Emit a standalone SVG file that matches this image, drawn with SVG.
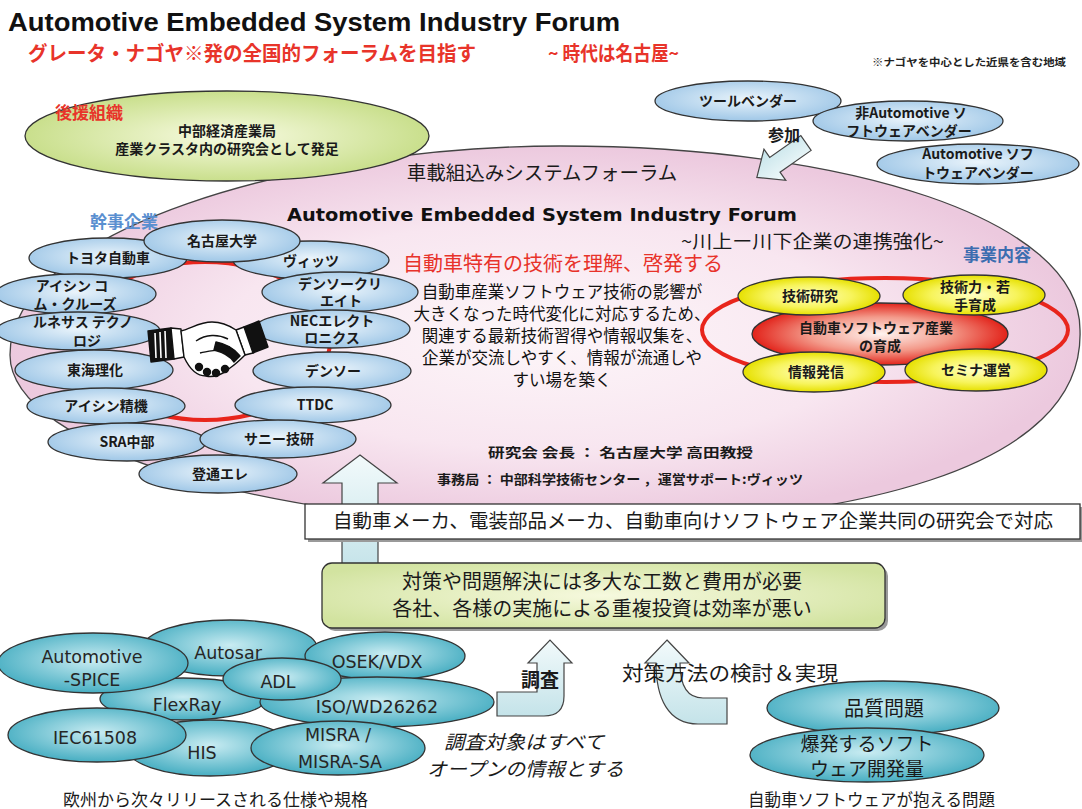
<svg xmlns="http://www.w3.org/2000/svg" width="1082" height="809" viewBox="0 0 1082 809">
<defs>
  <radialGradient id="gPink" cx="50%" cy="50%" r="50%">
    <stop offset="0" stop-color="#fdf6f9"/>
    <stop offset="0.6" stop-color="#f8e6f0"/>
    <stop offset="1" stop-color="#ecc9de"/>
  </radialGradient>
  <radialGradient id="gLime" cx="50%" cy="50%" r="50%">
    <stop offset="0" stop-color="#f8fbe2"/>
    <stop offset="1" stop-color="#c9df8c"/>
  </radialGradient>
  <radialGradient id="gBlue" cx="50%" cy="45%" r="55%">
    <stop offset="0" stop-color="#eaf4fb"/>
    <stop offset="1" stop-color="#9fc7e7"/>
  </radialGradient>
  <radialGradient id="gYellow" cx="50%" cy="50%" r="50%">
    <stop offset="0" stop-color="#ffffc4"/>
    <stop offset="0.6" stop-color="#f7f45c"/>
    <stop offset="1" stop-color="#e6e000"/>
  </radialGradient>
  <radialGradient id="gRed" cx="50%" cy="50%" r="50%">
    <stop offset="0" stop-color="#fff4f0"/>
    <stop offset="0.55" stop-color="#f39a8a"/>
    <stop offset="1" stop-color="#e2231a"/>
  </radialGradient>
  <radialGradient id="gTeal" cx="50%" cy="45%" r="55%">
    <stop offset="0" stop-color="#c9ecf2"/>
    <stop offset="1" stop-color="#47aec2"/>
  </radialGradient>
  <radialGradient id="gBox" cx="50%" cy="50%" r="60%">
    <stop offset="0" stop-color="#f6f9de"/>
    <stop offset="1" stop-color="#d2e3a0"/>
  </radialGradient>
  <linearGradient id="gArrow" x1="0" y1="0" x2="0" y2="1">
    <stop offset="0" stop-color="#f2fafb"/>
    <stop offset="1" stop-color="#c4e3e9"/>
  </linearGradient>
  <style>
    .jp{font-family:"Noto Sans CJK JP","Noto Sans CJK SC",sans-serif}
    .b{font-weight:700}
    .c{text-anchor:middle}
    .edge{stroke:#333;stroke-width:1.3}
    .bn{fill:url(#gBlue);stroke:#333;stroke-width:1.3}
    .yn{fill:url(#gYellow);stroke:#333;stroke-width:1.3}
    .tn{fill:url(#gTeal);stroke:#333;stroke-width:1.3}
    .ring{fill:none;stroke:#e8251c;stroke-width:4}
    .bt{font-family:"Noto Sans CJK JP","Noto Sans CJK SC",sans-serif;font-size:14px;font-weight:700;fill:#1a1a1a;text-anchor:middle}
    .yt{font-family:"Noto Sans CJK JP","Noto Sans CJK SC",sans-serif;font-size:14px;font-weight:700;fill:#1a1a1a;text-anchor:middle}
    .tt{font-family:"DejaVu Sans","Liberation Sans",sans-serif;font-size:17.5px;fill:#262626;text-anchor:middle}
    .arrow{fill:url(#gArrow);stroke:#444;stroke-width:1.2}
  </style>
</defs>

<rect width="1082" height="809" fill="#ffffff"/>

<!-- heading -->
<g id="heading">
  <text x="8" y="31" font-family="Liberation Sans, Arial, sans-serif" font-size="26" font-weight="700" fill="#111" textLength="612" lengthAdjust="spacingAndGlyphs">Automotive Embedded System Industry Forum</text>
  <text class="jp b" x="28" y="61" font-size="20" fill="#e8342a" textLength="448" lengthAdjust="spacingAndGlyphs">グレータ・ナゴヤ※発の全国的フォーラムを目指す</text>
  <text class="jp b" x="548" y="61" font-size="20" fill="#e8342a" textLength="131" lengthAdjust="spacingAndGlyphs">~ 時代は名古屋~</text>
  <text class="jp b" x="872" y="66" font-size="10.5" fill="#222" textLength="194" lengthAdjust="spacingAndGlyphs">※ナゴヤを中心とした近県を含む地域</text>
</g>

<!-- forum (large pink region) -->
<g id="forum">
  <path d="M560,146 C850,146 1080,220 1080,330 C1085,470 850,525 560,525 C280,525 10,450 10,355 C10,230 300,146 560,146 Z" fill="url(#gPink)" stroke="#444" stroke-width="1.3"/>
  <text class="jp c" x="542" y="180" font-size="19.5" fill="#1a1a1a">車載組込みシステムフォーラム</text>
  <text class="c" x="542" y="221" font-family="DejaVu Sans, Verdana, sans-serif" font-size="18" font-weight="700" fill="#111" textLength="510" lengthAdjust="spacingAndGlyphs">Automotive Embedded System Industry  Forum</text>
  <text class="jp" x="681" y="248" font-size="18" fill="#1a1a1a" textLength="263" lengthAdjust="spacingAndGlyphs">~川上ー川下企業の連携強化~</text>
  <text class="jp b" x="963" y="261" font-size="17" fill="#3c6db0">事業内容</text>
  <text class="jp b" x="90" y="228" font-size="17" fill="#5a8fd0">幹事企業</text>
  <text class="jp c" x="563" y="271" font-size="20" fill="#e8322a">自動車特有の技術を理解、啓発する</text>
  <g class="jp c" font-size="16.5" fill="#111">
    <text x="562" y="298">自動車産業ソフトウェア技術の影響が</text>
    <text x="562" y="320">大きくなった時代変化に対応するため、</text>
    <text x="562" y="342">関連する最新技術習得や情報収集を、</text>
    <text x="562" y="364">企業が交流しやすく、情報が流通しや</text>
    <text x="562" y="386">すい場を築く</text>
  </g>
  <text class="jp b" x="488" y="457" font-size="13" fill="#1a1a1a" textLength="265" lengthAdjust="spacingAndGlyphs">研究会 会長 ： 名古屋大学  高田教授</text>
  <text class="jp b" x="437" y="484" font-size="13" fill="#1a1a1a" textLength="366" lengthAdjust="spacingAndGlyphs">事務局 ： 中部科学技術センター ，運営サポート:ヴィッツ</text>
</g>

<!-- supporting organisation -->
<g id="support">
  <ellipse cx="227" cy="136" rx="202" ry="45" fill="url(#gLime)" class="edge"/>
  <text class="jp b" x="55" y="119" font-size="17" fill="#e8342a">後援組織</text>
  <text class="jp b c" x="227" y="136" font-size="14" fill="#1a1a1a">中部経済産業局</text>
  <text class="jp b c" x="227" y="154" font-size="14" fill="#1a1a1a">産業クラスタ内の研究会として発足</text>
</g>

<!-- participating vendors -->
<g id="vendor-tool">
  <ellipse cx="748" cy="101" rx="93" ry="20" class="bn"/>
  <text class="bt" x="748" y="106">ツールベンダー</text>
</g>
<g id="vendor-nonauto">
  <ellipse cx="908" cy="121" rx="95" ry="20" class="bn"/>
  <text class="bt" x="911" y="118">非Automotive ソ</text>
  <text class="bt" x="909" y="136">フトウェアベンダー</text>
</g>
<g id="vendor-auto">
  <ellipse cx="978" cy="164" rx="101" ry="20" class="bn"/>
  <text class="bt" x="978" y="159">Automotive ソフ</text>
  <text class="bt" x="978" y="178">トウェアベンダー</text>
</g>

<!-- member companies -->
<g id="member-ring"><ellipse cx="205" cy="341" rx="125" ry="79" class="ring"/></g>
<g id="n-toyota"><ellipse cx="108" cy="258" rx="79" ry="20" class="bn"/><text class="bt" x="108" y="263">トヨタ自動車</text></g>
<g id="n-vitz"><ellipse cx="311" cy="260" rx="78" ry="19" class="bn"/><text class="bt" x="311" y="266">ヴィッツ</text></g>
<g id="n-nagoya-univ"><ellipse cx="222" cy="241" rx="78" ry="21" class="bn"/><text class="bt" x="222" y="246">名古屋大学</text></g>
<g id="n-aisin-comcruise"><ellipse cx="76" cy="294" rx="80" ry="20" class="bn"/><text class="bt" x="72" y="291">アイシン コ</text><text class="bt" x="75" y="309">ム・クルーズ</text></g>
<g id="n-denso-create"><ellipse cx="340" cy="292" rx="78" ry="20" class="bn"/><text class="bt" x="340" y="289">デンソークリ</text><text class="bt" x="341" y="306">エイト</text></g>
<g id="n-renesas"><ellipse cx="78" cy="331" rx="82" ry="19" class="bn"/><text class="bt" x="83" y="327">ルネサス テクノ</text><text class="bt" x="87" y="346">ロジ</text></g>
<g id="n-nec"><ellipse cx="332" cy="329" rx="78" ry="19" class="bn"/><text class="bt" x="332" y="326">NECエレクト</text><text class="bt" x="332" y="343">ロニクス</text></g>
<g id="n-tokai-rika"><ellipse cx="94" cy="370" rx="79" ry="20" class="bn"/><text class="bt" x="95" y="375">東海理化</text></g>
<g id="n-denso"><ellipse cx="332" cy="371" rx="79" ry="19" class="bn"/><text class="bt" x="333" y="376">デンソー</text></g>
<g id="n-aisin-seiki"><ellipse cx="106" cy="406" rx="79" ry="18" class="bn"/><text class="bt" x="106" y="411">アイシン精機</text></g>
<g id="n-ttdc"><ellipse cx="313" cy="405" rx="78" ry="18" class="bn"/><text class="bt" x="315" y="410">TTDC</text></g>
<g id="n-sra"><ellipse cx="127" cy="442" rx="79" ry="19" class="bn"/><text class="bt" x="127" y="447">SRA中部</text></g>
<g id="n-sunny"><ellipse cx="278" cy="439" rx="78" ry="19" class="bn"/><text class="bt" x="279" y="444">サニー技研</text></g>
<g id="n-tsuden"><ellipse cx="218" cy="474" rx="79" ry="19" class="bn"/><text class="bt" x="220" y="479">登通エレ</text></g>

<!-- handshake emblem -->
<g id="handshake" stroke="#111" stroke-width="1.4" stroke-linejoin="round">
  <polygon points="148,331 171,328 174,359 151,362" fill="#111"/>
  <path d="M155,333 L156,358 M160,332 L161,358 M165,331 L166,358" stroke="#fff" stroke-width="1.6"/>
  <polygon points="171,328 181,329 184,357 174,359" fill="#fff"/>
  <polygon points="244,327 259,321 268,347 253,353" fill="#111"/>
  <polygon points="236,330 244,327 253,353 245,355" fill="#fff"/>
  <path d="M181,331 C192,328 200,322 212,322 C222,322 230,326 236,330 L245,355 C240,360 236,364 230,368 C224,374 214,378 206,376 C198,376 190,370 184,357 Z" fill="#fff"/>
  <path d="M214,350 C222,352 230,356 234,362 L240,356 C234,348 226,344 216,342 Z" fill="#111"/>
  <path d="M196,341 C206,334 218,334 228,339" fill="none"/>
  <path d="M200,353 C210,350 220,351 230,347" fill="none"/>
  <circle cx="199" cy="367" r="3.5" fill="#111"/>
  <circle cx="207" cy="372" r="3.5" fill="#111"/>
  <circle cx="216" cy="373" r="3.5" fill="#111"/>
  <circle cx="225" cy="369" r="3.5" fill="#111"/>
</g>

<!-- activities -->
<g id="activity-ring"><ellipse cx="885" cy="330" rx="183" ry="52" class="ring"/></g>
<g id="a-core">
  <ellipse cx="880" cy="334" rx="128" ry="31" fill="url(#gRed)" class="edge"/>
  <text class="yt" x="876" y="333" font-size="13">自動車ソフトウェア産業</text>
  <text class="yt" x="880" y="351" font-size="13">の育成</text>
</g>
<g id="a-research"><ellipse cx="809" cy="296" rx="71" ry="19" class="yn"/><text class="yt" x="810" y="301">技術研究</text></g>
<g id="a-training"><ellipse cx="974" cy="295" rx="71" ry="20" class="yn"/><text class="yt" x="975" y="292">技術力・若</text><text class="yt" x="975" y="310">手育成</text></g>
<g id="a-info"><ellipse cx="814" cy="372" rx="71" ry="20" class="yn"/><text class="yt" x="816" y="377">情報発信</text></g>
<g id="a-seminar"><ellipse cx="976" cy="370" rx="71" ry="21" class="yn"/><text class="yt" x="976" y="375">セミナ運営</text></g>

<!-- connectors -->
<g id="connectors">
  <path class="arrow" transform="translate(806,143) rotate(145)" d="M0,-9 L38,-9 L38,-19 L60,0 L38,19 L38,9 L0,9 Z"/>
  <path class="arrow" d="M360,455 L397,483 L378,483 L378,570 L342,570 L342,483 L323,483 Z"/>
  <path class="arrow" d="M497,692 L537,692 L537,663 L528,663 L550,640 L572,663 L564,663 L564,696 Q564,716 544,716 L497,716 Z"/>
  <path class="arrow" d="M667,640 L689,663 L680,663 C680,686 687,698 703,698 L727,698 L727,724 L698,724 C668,724 656,698 656,663 L645,663 Z"/>
</g>
<g id="connector-labels">
  <text class="jp b" x="768" y="141" font-size="16" fill="#1a1a1a">参加</text>
  <text class="jp b" x="521" y="687" font-size="19" fill="#1a1a1a">調査</text>
  <text class="jp" x="622" y="681" font-size="20" fill="#1a1a1a" textLength="216" lengthAdjust="spacingAndGlyphs">対策方法の検討＆実現</text>
</g>

<!-- joint study group -->
<g id="joint-study">
  <rect x="308" y="507" width="775" height="35" fill="#9a9a9a"/>
  <rect x="305" y="504" width="775" height="35" fill="#fff" stroke="#333" stroke-width="1.3"/>
  <text class="jp" x="333" y="528" font-size="19.5" fill="#1a1a1a" textLength="720" lengthAdjust="spacingAndGlyphs">自動車メーカ、電装部品メーカ、自動車向けソフトウェア企業共同の研究会で対応</text>
</g>

<!-- cost issue -->
<g id="cost-issue">
  <rect x="325" y="566" width="563" height="65" rx="10" fill="#9a9a9a"/>
  <rect x="322" y="563" width="563" height="65" rx="10" fill="url(#gBox)" stroke="#333" stroke-width="1.3"/>
  <text class="jp c" x="602" y="589" font-size="20" fill="#1a1a1a">対策や問題解決には多大な工数と費用が必要</text>
  <text class="jp c" x="602" y="616" font-size="20" fill="#1a1a1a">各社、各様の実施による重複投資は効率が悪い</text>
</g>

<!-- European specifications and standards -->
<g id="s-autosar"><ellipse cx="230" cy="648" rx="87" ry="28" class="tn"/><text class="tt" x="228" y="659">Autosar</text></g>
<g id="s-osek"><ellipse cx="385" cy="656" rx="80" ry="24" class="tn"/><text class="tt" x="377" y="668">OSEK/VDX</text></g>
<g id="s-flexray"><ellipse cx="183" cy="699" rx="83" ry="21" class="tn"/><text class="tt" x="187" y="711">FlexRay</text></g>
<g id="s-spice"><ellipse cx="93" cy="663" rx="95" ry="30" class="tn"/><text class="tt" x="92" y="663">Automotive</text><text class="tt" x="92" y="686">-SPICE</text></g>
<g id="s-iso"><ellipse cx="377" cy="702" rx="117" ry="25" class="tn"/><text class="tt" x="377" y="713">ISO/WD26262</text></g>
<g id="s-adl"><ellipse cx="282" cy="679" rx="59" ry="21" class="tn"/><text class="tt" x="278" y="688">ADL</text></g>
<g id="s-his"><ellipse cx="210" cy="748" rx="83" ry="28" class="tn"/><text class="tt" x="202" y="759">HIS</text></g>
<g id="s-iec"><ellipse cx="97" cy="735" rx="89" ry="27" class="tn"/><text class="tt" x="95" y="744">IEC61508</text></g>
<g id="s-misra"><ellipse cx="338" cy="748" rx="87" ry="27" class="tn"/><text class="tt" x="338" y="741">MISRA /</text><text class="tt" x="340" y="768">MISRA-SA</text></g>
<g id="specs-caption">
  <text class="jp" x="63" y="806" font-size="17" fill="#1a1a1a" textLength="305" lengthAdjust="spacingAndGlyphs">欧州から次々リリースされる仕様や規格</text>
</g>

<!-- survey note -->
<g id="survey-note" class="jp" font-style="italic" font-size="19" fill="#1a1a1a">
  <text x="444" y="749" textLength="160" lengthAdjust="spacingAndGlyphs">調査対象はすべて</text>
  <text x="427" y="776" textLength="197" lengthAdjust="spacingAndGlyphs">オープンの情報とする</text>
</g>

<!-- automotive software problems -->
<g id="p-quality"><ellipse cx="883" cy="708" rx="116" ry="27" class="tn"/><text class="jp c" x="884" y="716" font-size="20" fill="#1a1a1a">品質問題</text></g>
<g id="p-volume"><ellipse cx="867" cy="755" rx="117" ry="27" class="tn"/><text class="jp c" x="867" y="751" font-size="19" fill="#1a1a1a">爆発するソフト</text><text class="jp c" x="867" y="776" font-size="19" fill="#1a1a1a">ウェア開発量</text></g>
<g id="problems-caption">
  <text class="jp" x="748" y="806" font-size="16.5" fill="#1a1a1a" textLength="247" lengthAdjust="spacingAndGlyphs">自動車ソフトウェアが抱える問題</text>
</g>
</svg>
